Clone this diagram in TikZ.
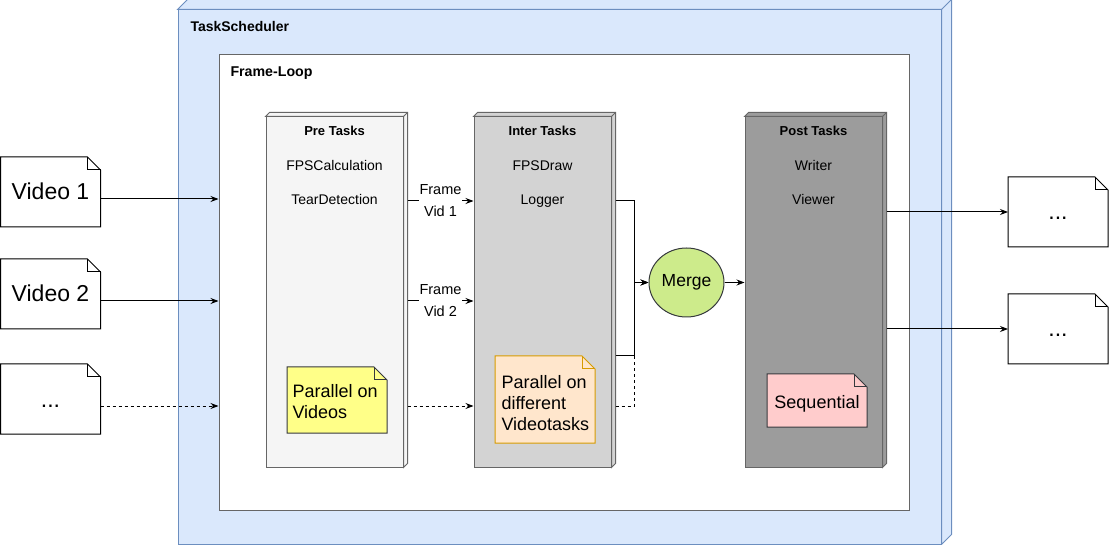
\documentclass[tikz,border=0pt]{standalone}
\usepackage{fontspec}
\setmainfont{Liberation Sans}
\usetikzlibrary{arrows.meta,positioning,shapes.geometric}

\definecolor{schedblue}{HTML}{DAE8FC}
\definecolor{schedline}{HTML}{6C8EBF}
\definecolor{boxline}{HTML}{666666}
\definecolor{prefill}{HTML}{F5F5F5}
\definecolor{interfill}{HTML}{D3D3D3}
\definecolor{postfill}{HTML}{9C9C9C}
\definecolor{noteline}{HTML}{36393D}
\definecolor{noteyellow}{HTML}{FFFF88}
\definecolor{noteorange}{HTML}{FFE6CC}
\definecolor{orangeline}{HTML}{D79B00}
\definecolor{notepink}{HTML}{FFCCCC}
\definecolor{mergegreen}{HTML}{CDEB8B}

\begin{document}
\begin{tikzpicture}[x=1pt,y=-1pt,line width=1pt,>={Stealth[length=8pt,width=6pt]},
cubebox/.style={draw=boxline,minimum width=137pt,minimum height=350pt,inner sep=0pt},
boxtitle/.style={font=\bfseries\fontsize{13}{15}\selectfont,text height=10pt,text depth=3pt,inner sep=0pt},
boxitem/.style={font=\fontsize{14}{16}\selectfont,text height=10pt,text depth=3pt,inner sep=0pt},
docbox/.style={minimum width=100pt,minimum height=70pt,inner sep=0pt,outer sep=0pt},
doctext/.style={font=\fontsize{23}{27}\selectfont,text height=16pt,text depth=0pt,inner sep=0pt},
notetext/.style={font=\fontsize{18}{21}\selectfont,align=left,inner sep=0pt},
framelbl/.style={font=\fontsize{14.5}{22}\selectfont,align=center,fill=white,inner sep=1pt},
dashlink/.style={dash pattern=on 3pt off 3pt}]
\useasboundingbox (0,0) rectangle (1109,545);

\node[draw=schedline,fill=schedblue,minimum width=763pt,minimum height=534pt] (sched) at (559.5,277) {};
\node[boxtitle,anchor=west,font=\bfseries\fontsize{14}{15}\selectfont] (schedlbl) at (190,28) {TaskScheduler};
\node[draw=boxline,fill=white,minimum width=690pt,minimum height=455pt] (frameloop) at (564,282.5) {};
\node[boxtitle,anchor=west,font=\bfseries\fontsize{14.2}{15}\selectfont] (looplbl) at (230,73) {Frame-Loop};

% task stages
\node[cubebox,fill=prefill] (pre) at (334.5,292) {};
\node[cubebox,fill=interfill] (inter) at (542.5,292) {};
\node[cubebox,fill=postfill] (post) at (813.5,292) {};

\foreach \c/\d/\f/\l in {sched/10/schedblue/schedline,pre/4/prefill/boxline,inter/4/interfill/boxline,post/4/postfill/boxline}{
  \filldraw[fill=\f,draw=\l] (\c.north west) -- ++(\d,-\d) -- ([shift={(\d,-\d)}]\c.north east) -- ([shift={(\d,-\d)}]\c.south east) -- (\c.south east) -- (\c.north east) -- cycle;
  \draw[\l] (\c.north east) -- ++(\d,-\d);
  \coordinate (\c-rim) at ([xshift=\d pt]\c.east);
}

\node[boxtitle] (pretitle) at ([yshift=-16pt]pre.north) {Pre Tasks};
\node[boxitem,below=21pt of pretitle] (prefps) {FPSCalculation};
\node[boxitem,below=20pt of prefps] (pretear) {TearDetection};

\node[boxtitle] (intertitle) at ([yshift=-16pt]inter.north) {Inter Tasks};
\node[boxitem,below=21pt of intertitle] (interdraw) {FPSDraw};
\node[boxitem,below=20pt of interdraw] (interlog) {Logger};

\node[boxtitle] (posttitle) at ([yshift=-16pt]post.north) {Post Tasks};
\node[boxitem,below=21pt of posttitle] (postwrite) {Writer};
\node[boxitem,below=20pt of postwrite] (postview) {Viewer};

% notes and files (outlines drawn below)
\node[docbox,minimum height=66pt] (vidnote) at (337,400) {};
\node[docbox,minimum height=87pt] (tasknote) at (545,399.5) {};
\node[docbox,minimum height=53pt] (seqnote) at (817,400.5) {};
\node[docbox] (vid1) at (50.5,192) {};
\node[docbox] (vid2) at (50.5,294) {};
\node[docbox] (vid3) at (50.5,399) {};
\node[docbox] (res1) at (1058,212) {};
\node[docbox] (res2) at (1058,329) {};

\foreach \n/\f/\l in {vid1/white/black,vid2/white/black,vid3/white/black,res1/white/black,res2/white/black,vidnote/noteyellow/noteline,tasknote/noteorange/orangeline,seqnote/notepink/noteline}{
  \filldraw[fill=\f,draw=\l] (\n.south west) -- (\n.north west) -- ([xshift=-13pt]\n.north east) -- ([yshift=-13pt]\n.north east) -- (\n.south east) -- cycle;
  \draw[\l] ([xshift=-13pt]\n.north east) -- ++(0,13) -- ++(13,0);
}

\node[notetext,anchor=west] (vidnotetxt) at ([xshift=5pt,yshift=-2pt]vidnote.west) {Parallel on\\Videos};
\node[notetext,anchor=west] (tasknotetxt) at ([xshift=6pt,yshift=-4pt]tasknote.west) {Parallel on\\different\\Videotasks};
\node[notetext] (seqnotetxt) at ([yshift=-3pt]seqnote.center) {Sequential};
\node[doctext] (vid1txt) at (vid1) {Video 1};
\node[doctext] (vid2txt) at (vid2) {Video 2};
\node[doctext] (vid3txt) at (vid3) {...};
\node[doctext] (res1txt) at (res1) {...};
\node[doctext] (res2txt) at (res2) {...};

\node[ellipse,draw=noteline,fill=mergegreen,minimum width=75pt,minimum height=69pt,inner sep=0pt,font=\fontsize{17.5}{20}\selectfont] (merge) at (686.5,282.5) {Merge};

% connectors
\coordinate (in1) at ([yshift=-7pt]vid1.east);
\coordinate (in2) at ([yshift=-7pt]vid2.east);
\coordinate (in3) at ([yshift=-7pt]vid3.east);
\coordinate (fr1) at ([yshift=-9pt]vid1.east);
\coordinate (join) at ([xshift=-14pt]merge.west);
\coordinate (out2) at ([yshift=-64pt]inter-rim);

\draw[->] (in1) -- (in1 -| frameloop.west);
\draw[->] (in2) -- (in2 -| frameloop.west);
\draw[->,dashlink] (in3) -- (in3 -| frameloop.west);

\draw[->] (fr1 -| pre-rim) -- (fr1 -| inter.west) node[midway,framelbl] (lbl1) {Frame\\Vid 1};
\draw[->] (in2 -| pre-rim) -- (in2 -| inter.west) node[midway,framelbl] (lbl2) {Frame\\Vid 2};
\draw[->,dashlink] (in3 -| pre-rim) -- (in3 -| inter.west);

\draw[dashlink] (in3 -| inter-rim) -| (out2 -| join);
\draw[->] (fr1 -| inter-rim) -| (join) -- (merge.west);
\draw[->] (out2) -| (join) -- (merge.west);
\draw[->] (merge.east) -- (merge.east -| post.west);

\draw[->] (res1.west -| post-rim) -- (res1.west);
\draw[->] (res2.west -| post-rim) -- (res2.west);
\end{tikzpicture}
\end{document}
